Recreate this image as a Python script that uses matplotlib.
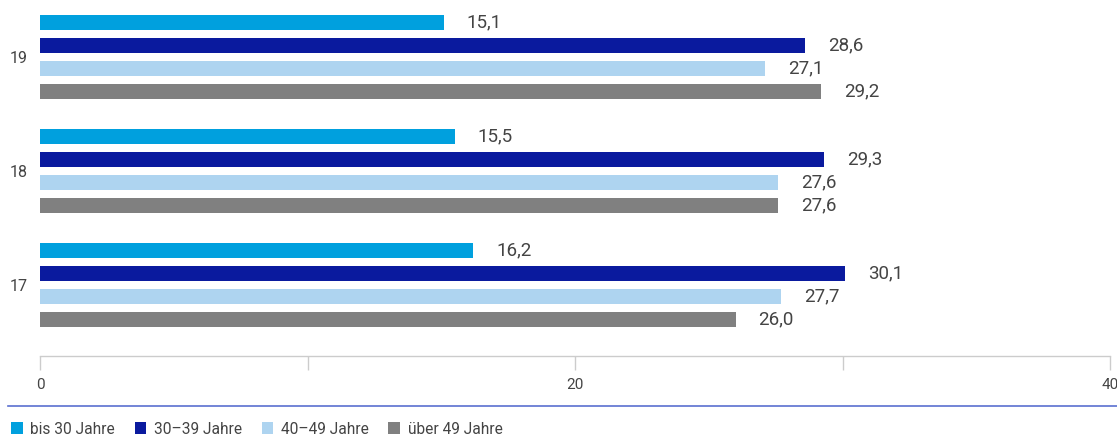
import matplotlib

matplotlib.use("Agg")

import matplotlib.pyplot as plt
from matplotlib.lines import Line2D
from matplotlib.patches import Patch

plt.rcParams["font.family"] = ["Roboto", "DejaVu Sans"]

groups = ["17", "18", "19"]
series = ["bis 30 Jahre", "30–39 Jahre", "40–49 Jahre", "über 49 Jahre"]
values = {
    "bis 30 Jahre": [16.2, 15.5, 15.1],
    "30–39 Jahre": [30.1, 29.3, 28.6],
    "40–49 Jahre": [27.7, 27.6, 27.1],
    "über 49 Jahre": [26.0, 27.6, 29.2],
}
colors = ["#00a0de", "#0a1a9e", "#aed4f0", "#808080"]
x_ticks = [0, 10, 20, 30, 40]
x_labels = ["0", "", "20", "", "40"]

W, H = 1117, 437
fig = plt.figure(figsize=(W / 100, H / 100), dpi=100)

left, right = 40 / W, 1110 / W
bottom = (H - 356) / H
ax = fig.add_axes([left, bottom, right - left, 1 - bottom])

offsets = [0.3026, 0.1009, -0.1009, -0.3026]
bar_h = 0.125
text_c = "#444444"

for i, (name, color) in enumerate(zip(series, colors)):
    ys = [g + offsets[i] for g in range(len(groups))]
    ax.barh(ys, values[name], height=bar_h, color=color, linewidth=0)
    for y, v in zip(ys, values[name]):
        ax.annotate(f"{v:.1f}".replace(".", ","), (v, y), xytext=(16.5, 0),
                    textcoords="offset points", va="center", ha="left",
                    fontsize=13.5, color=text_c)

ax.set_xlim(0, 40)
ax.set_ylim(-71 / 114, 2 + 57 / 114)
ax.set_yticks(range(len(groups)), groups)
ax.set_xticks(x_ticks, x_labels)

for s in ["top", "right", "left"]:
    ax.spines[s].set_visible(False)
ax.spines["bottom"].set_color("#cccccc")
ax.spines["bottom"].set_linewidth(1)
ax.tick_params(axis="x", direction="out", length=10, width=1, color="#cccccc",
               labelsize=11, labelcolor=text_c, pad=6)
ax.tick_params(axis="y", length=0, labelsize=11.5, labelcolor=text_c, pad=9)

# blue separator line
fig.add_artist(Line2D([8 / W, 1.0], [1 - 406 / H, 1 - 406 / H],
                      transform=fig.transFigure, color="#5a6fd0", linewidth=1.2))

handles = [Patch(facecolor=c, edgecolor="none", label=n) for n, c in zip(series, colors)]
fig.legend(handles=handles, loc="center left", bbox_to_anchor=(0.0, 1 - 429 / H),
           ncol=4, frameon=False, fontsize=11.2, handlelength=0.75, handleheight=0.75,
           handletextpad=0.5, columnspacing=1.25, labelcolor=text_c, borderaxespad=0.3)

fig.savefig("out.png", dpi=100)
